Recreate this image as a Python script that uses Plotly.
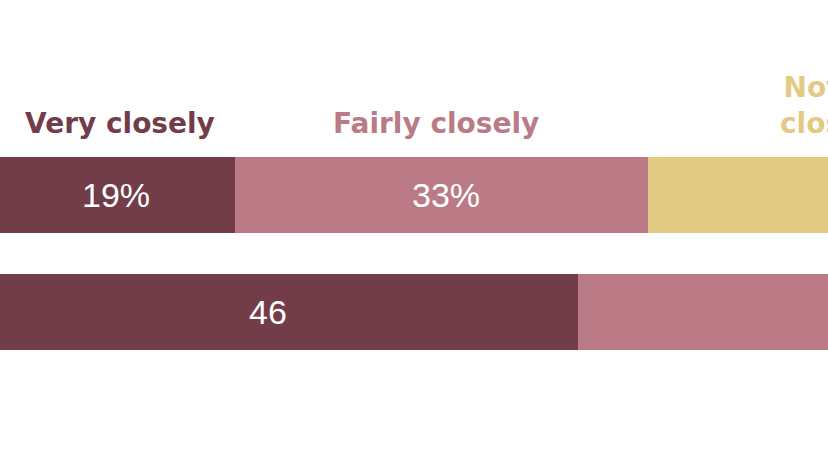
import plotly.graph_objects as go

# ---- data (right part of chart is cropped) ----
categories = ["Row 1", "Row 2"]
very_closely = [18.9, 46.4]
fairly_closely = [33.1, 38.0]
not_so_closely = [30.0, 12.0]
series_names = ["Very closely", "Fairly closely", "Not so\nclosely"]
row1_labels = ["19%", "33%"]
row2_labels = ["46"]

colors = ["#723d48", "#ba7b86", "#e2c984"]

X_MAX = 828 / 12.46

fig = go.Figure()
series = [very_closely, fairly_closely, not_so_closely]
for vals, name, col in zip(series, series_names, colors):
    fig.add_trace(go.Bar(
        y=categories, x=vals, orientation="h", name=name,
        marker=dict(color=col, line=dict(width=0)), width=0.646,
        hoverinfo="skip",
    ))

annotations = []
# header labels above the first row, centred on its segments
bases = [0.0, very_closely[0], very_closely[0] + fairly_closely[0]]
header_shift = [2, -6, 0]
for i, (name, col) in enumerate(zip(series_names, colors)):
    cx = bases[i] + series[i][0] / 2
    annotations.append(dict(
        x=cx / X_MAX, y=categories[0], xref="paper", yref="y",
        text="<b>" + name.replace("\n", "<br>") + "</b>",
        showarrow=False, yanchor="bottom", xanchor="center", yshift=53, xshift=header_shift[i],
        font=dict(family="DejaVu Sans", size=28, color=col), align="center",
    ))

# value labels inside bars
val_shift_r1 = [-2, 4]
for i, lab in enumerate(row1_labels):
    cx = bases[i] + series[i][0] / 2
    annotations.append(dict(
        x=cx, y=categories[0], text=lab, showarrow=False, xshift=val_shift_r1[i],
        font=dict(family="Liberation Sans", size=34, color="white"),
    ))
for i, lab in enumerate(row2_labels):
    cx = series[i][1] / 2
    annotations.append(dict(
        x=cx, y=categories[1], text=lab, showarrow=False, xshift=-21,
        font=dict(family="Liberation Sans", size=34, color="white"),
    ))

fig.update_layout(
    barmode="stack", width=828, height=467,
    margin=dict(l=0, r=0, t=0, b=0),
    paper_bgcolor="white", plot_bgcolor="white",
    showlegend=False, annotations=annotations,
    xaxis=dict(range=[0, X_MAX], visible=False, fixedrange=True),
    yaxis=dict(type="category", categoryorder="array", categoryarray=categories[::-1],
               range=[-1.329, 2.670], visible=False, fixedrange=True),
)

fig.write_html(
    "out.html",
    config={"displayModeBar": False},
    post_script="document.body.style.margin='0';document.body.style.overflow='hidden';",
)
